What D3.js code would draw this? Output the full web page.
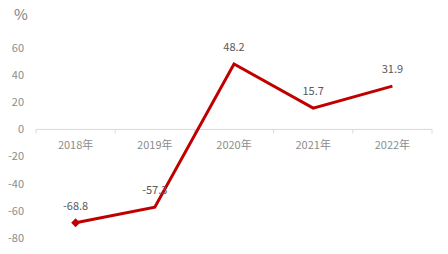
<!DOCTYPE html>
<html>
<head>
<meta charset="utf-8">
<script src="https://cdn.jsdelivr.net/npm/d3@7"></script>
<style>
  body { margin: 0; background: #fff; }
  text { font-family: "Noto Sans CJK SC", "DejaVu Sans", sans-serif; }
</style>
</head>
<body>
<svg id="chart" width="448" height="254"></svg>
<script>
const years = ["2018年", "2019年", "2020年", "2021年", "2022年"];
const growth = [-68.8, -57.3, 48.2, 15.7, 31.9];
const yTicks = [-80, -60, -40, -20, 0, 20, 40, 60];

const width = 448, height = 254;
const svg = d3.select("#chart");

const x = d3.scaleBand().domain(years).range([36, 432]);
const y = d3.scaleLinear().domain([-80, 60]).range([238, 48]);

// unit label
svg.append("text")
  .attr("x", 14).attr("y", 20)
  .attr("font-size", 15).attr("fill", "#7f7f7f")
  .text("%");

// y tick labels (no axis line)
svg.append("g").selectAll("text")
  .data(yTicks)
  .join("text")
  .attr("x", 24)
  .attr("y", d => y(d))
  .attr("dy", "0.35em")
  .attr("text-anchor", "end")
  .attr("font-size", 11)
  .attr("fill", "#8c8c8c")
  .text(d => d);

// zero axis with category ticks
const xAxis = svg.append("g").attr("transform", `translate(0,${y(0)})`);
xAxis.append("line")
  .attr("x1", x.range()[0]).attr("x2", x.range()[1])
  .attr("stroke", "#d9d9d9").attr("stroke-width", 1);
xAxis.selectAll("line.tick")
  .data(years.map(d => x(d)).concat([x.range()[1]]))
  .join("line")
  .attr("class", "tick")
  .attr("x1", d => d).attr("x2", d => d)
  .attr("y1", 0).attr("y2", 4)
  .attr("stroke", "#d9d9d9");
xAxis.selectAll("text")
  .data(years)
  .join("text")
  .attr("x", d => x(d) + x.bandwidth() / 2)
  .attr("y", 20)
  .attr("text-anchor", "middle")
  .attr("font-size", 11)
  .attr("fill", "#8c8c8c")
  .text(d => d);

// line
const line = d3.line()
  .x((d, i) => x(years[i]) + x.bandwidth() / 2)
  .y(d => y(d));

svg.append("path")
  .datum(growth)
  .attr("d", line)
  .attr("fill", "none")
  .attr("stroke", "#c00000")
  .attr("stroke-width", 3)
  .attr("stroke-linejoin", "miter");

// diamond marker on the first point
svg.append("path")
  .attr("d", d3.symbol(d3.symbolDiamond2, 50)())
  .attr("transform", `translate(${x(years[0]) + x.bandwidth() / 2},${y(growth[0])})`)
  .attr("fill", "#c00000");

// data labels
svg.append("g").selectAll("text")
  .data(growth)
  .join("text")
  .attr("x", (d, i) => x(years[i]) + x.bandwidth() / 2)
  .attr("y", d => y(d) - 13)
  .attr("text-anchor", "middle")
  .attr("font-size", 11)
  .attr("fill", "#595959")
  .text(d => d);
</script>
</body>
</html>
